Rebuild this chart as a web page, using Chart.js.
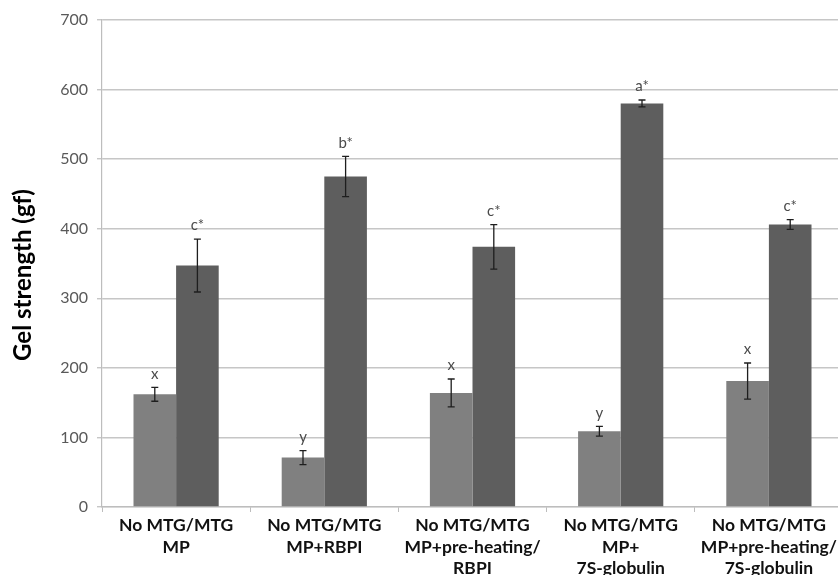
<!DOCTYPE html>
<html>
<head>
<meta charset="utf-8">
<script src="https://cdn.jsdelivr.net/npm/chart.js@4"></script>
<style>
  html, body { margin: 0; padding: 0; background: #fff; overflow: hidden; }
  #wrap { width: 845px; height: 575px; position: relative; }
</style>
</head>
<body>
<div id="wrap"><canvas id="gelChart"></canvas></div>
<script>
// ── Data ────────────────────────────────────────────────────
const categories = [
  ['No MTG/MTG', 'MP'],
  ['No MTG/MTG', 'MP+RBPI'],
  ['No MTG/MTG', 'MP+pre-heating/', 'RBPI'],
  ['No MTG/MTG', 'MP+', '7S-globulin'],
  ['No MTG/MTG', 'MP+pre-heating/', '7S-globulin'],
];
const noMtgValues  = [162, 71, 164, 109, 181];
const noMtgErrors  = [10, 10, 20, 7, 26];
const noMtgLetters = ['x', 'y', 'x', 'y', 'x'];
const mtgValues    = [347, 475, 374, 580, 406];
const mtgErrors    = [38, 29, 32, 5, 7];
const mtgLetters   = ['c*', 'b*', 'c*', 'a*', 'c*'];
const yMin = 0, yMax = 700, yStep = 100;
const yTitle = 'Gel strength (gf)';

// ── Error bars + letters + y title ──────────────────────────
const errorBarPlugin = {
  id: 'errorBars',
  afterDatasetsDraw(chart) {
    const { ctx, scales: { y } } = chart;
    const sets = [
      { errs: noMtgErrors, letters: noMtgLetters },
      { errs: mtgErrors,   letters: mtgLetters },
    ];
    sets.forEach((s, di) => {
      const meta = chart.getDatasetMeta(di);
      const vals = chart.data.datasets[di].data;
      meta.data.forEach((bar, i) => {
        const x = bar.x;
        const top = y.getPixelForValue(vals[i] + s.errs[i]);
        const bot = y.getPixelForValue(vals[i] - s.errs[i]);
        ctx.save();
        ctx.strokeStyle = '#1e1e1e';
        ctx.lineWidth = 1.3;
        ctx.beginPath();
        ctx.moveTo(x, top); ctx.lineTo(x, bot);
        ctx.moveTo(x - 3.5, top); ctx.lineTo(x + 3.5, top);
        ctx.moveTo(x - 3.5, bot); ctx.lineTo(x + 3.5, bot);
        ctx.stroke();
        ctx.fillStyle = '#4a4a4a';
        ctx.font = '15px Lato';
        ctx.textAlign = 'center';
        ctx.textBaseline = 'bottom';
        ctx.fillText(s.letters[i], x, top - 6);
        ctx.restore();
      });
    });
  },
  afterDraw(chart) {
    const { ctx } = chart;
    ctx.save();
    ctx.translate(23, 275);
    ctx.rotate(-Math.PI / 2);
    ctx.font = 'bold 24px Lato';
    ctx.fillStyle = '#000';
    ctx.textAlign = 'center';
    ctx.textBaseline = 'middle';
    ctx.fillText(yTitle, 0, 0);
    ctx.restore();
  }
};

// ── Chart ───────────────────────────────────────────────────
new Chart(document.getElementById('gelChart'), {
  type: 'bar',
  data: {
    labels: categories,
    datasets: [
      { label: 'No MTG', data: noMtgValues, backgroundColor: '#808080', categoryPercentage: 0.575, barPercentage: 1 },
      { label: 'MTG',    data: mtgValues,   backgroundColor: '#5e5e5e', categoryPercentage: 0.575, barPercentage: 1 },
    ]
  },
  options: {
    responsive: true,
    maintainAspectRatio: false,
    animation: false,
    layout: { padding: { top: 20, right: 2, left: 0, bottom: 0 } },
    plugins: { legend: { display: false }, tooltip: { enabled: false } },
    scales: {
      x: {
        grid: { offset: true, drawOnChartArea: false, drawTicks: true, tickLength: 5, color: '#bdbdbd' },
        border: { color: '#bdbdbd', width: 1.2 },
        ticks: {
          color: '#111',
          font: { family: 'Lato', weight: 'bold', size: 17.5, lineHeight: 1.22 },
          padding: 3,
          maxRotation: 0,
          autoSkip: false,
        },
        afterFit(scale) { scale.height = 68; },
      },
      y: {
        min: yMin, max: yMax,
        grid: { color: '#c6c6c6', lineWidth: 1.4, tickLength: 5 },
        border: { color: '#bdbdbd', width: 1.2 },
        ticks: {
          stepSize: yStep,
          color: '#595959',
          font: { family: 'Lato', size: 16 },
          padding: 9,
        },
        afterFit(scale) { scale.width = 102; },
      },
    },
  },
  plugins: [errorBarPlugin],
});
</script>
</body>
</html>
